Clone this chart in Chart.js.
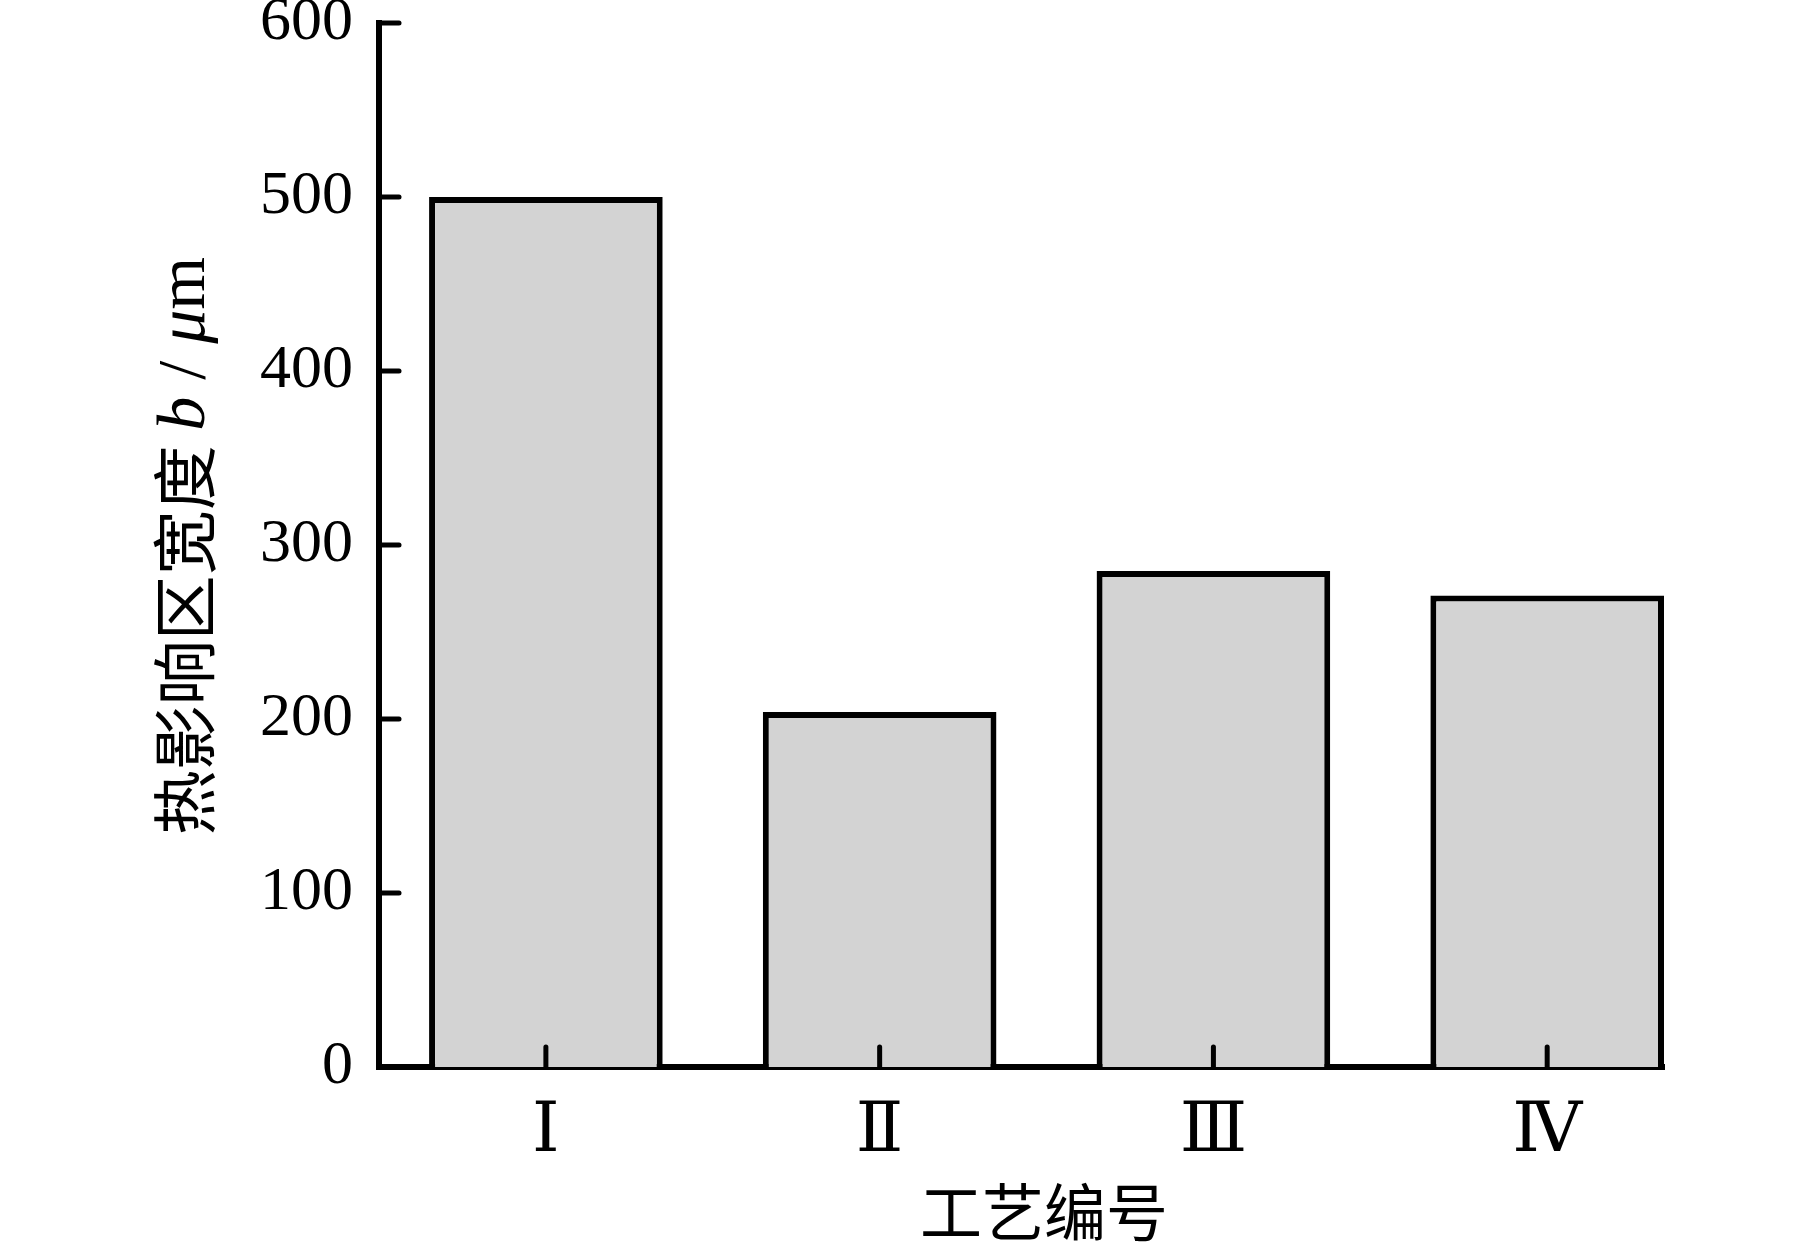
<!DOCTYPE html>
<html>
<head>
<meta charset="utf-8">
<script src="https://cdn.jsdelivr.net/npm/chart.js@4.4.0/dist/chart.umd.min.js"></script>
<style>
  html, body { margin: 0; padding: 0; background: #fff; }
  #wrap { width: 1819px; height: 1245px; }
</style>
</head>
<body>
<div id="wrap"><canvas id="myChart"></canvas></div>
<script>
// data
const categories = ["Ⅰ", "Ⅱ", "Ⅲ", "Ⅳ"];
const widths = [500, 204, 285, 271];
const yTicks = [0, 100, 200, 300, 400, 500, 600];

const xTitle = "工艺编号";
// y title pieces: [text, kind]
const yTitle = [["热影响区宽度 ", "cjk"], ["b", "it"], [" / ", "rm"], ["μ", "it"], ["m", "rm"]];

const serif = '"Liberation Serif", "DejaVu Serif", serif';
const cjk = '"Noto Sans CJK SC", sans-serif';

const fontFor = (kind) => {
  if (kind === "cjk") return `65px ${cjk}`;
  if (kind === "it") return `italic 68px ${serif}`;
  return `68px ${serif}`;
};

// inward tick marks + axis titles
const extras = {
  id: "extras",
  afterDatasetsDraw(chart) {
    const { ctx, chartArea, scales } = chart;
    ctx.save();
    ctx.strokeStyle = "#000";
    ctx.lineWidth = 5;
    ctx.lineCap = "round";
    yTicks.forEach((v) => {
      if (v === 0) return;
      const y = scales.y.getPixelForValue(v);
      ctx.beginPath();
      ctx.moveTo(chartArea.left, y);
      ctx.lineTo(chartArea.left + 20, y);
      ctx.stroke();
    });
    categories.forEach((c, i) => {
      const x = scales.x.getPixelForValue(i + 1);
      ctx.beginPath();
      ctx.moveTo(x, chartArea.bottom);
      ctx.lineTo(x, chartArea.bottom - 20);
      ctx.stroke();
    });

    ctx.fillStyle = "#000";
    // x title
    ctx.font = `62px ${cjk}`;
    ctx.textAlign = "center";
    ctx.textBaseline = "middle";
    ctx.fillText(xTitle, 1044, 1212);

    // rotated y title with mixed fonts
    ctx.translate(184, 546);
    ctx.rotate(-Math.PI / 2);
    ctx.textAlign = "left";
    let total = 0;
    yTitle.forEach(([t, k]) => {
      ctx.font = fontFor(k);
      total += ctx.measureText(t).width;
    });
    let x = -total / 2;
    yTitle.forEach(([t, k]) => {
      ctx.font = fontFor(k);
      ctx.fillText(t, x, k === "cjk" ? 0 : 2);
      x += ctx.measureText(t).width;
    });
    ctx.restore();
  },
};

const ctx = document.getElementById("myChart");

const myChart = new Chart(ctx, {
  type: "bar",
  data: {
    labels: categories,
    datasets: [
      {
        data: widths.map((v, i) => ({ x: i + 1, y: v })),
        backgroundColor: "#d3d3d3",
        borderColor: "#000",
        borderWidth: 6,
        barPercentage: 0.7,
        categoryPercentage: 1,
      },
    ],
  },
  options: {
    responsive: true,
    maintainAspectRatio: false,
    animation: false,
    layout: { padding: { top: 23, right: 155, left: 0, bottom: 0 } },
    plugins: { legend: { display: false }, tooltip: { enabled: false } },
    scales: {
      x: {
        type: "linear",
        offset: false,
        min: 0.5,
        max: 4.35,
        grid: { display: false },
        border: { display: true, color: "#000", width: 6 },
        afterBuildTicks: (s) => {
          s.ticks = categories.map((c, i) => ({ value: i + 1 }));
        },
        afterFit: (s) => {
          s.height = 178;
          s.paddingLeft = 0;
          s.paddingRight = 0;
        },
        ticks: {
          padding: 16,
          color: "#000",
          font: { family: '"DejaVu Serif", serif', size: 70 },
          callback: (v) => categories[v - 1],
          maxRotation: 0,
        },
      },
      y: {
        min: 0,
        max: 600,
        grid: { display: false },
        border: { display: true, color: "#000", width: 6 },
        afterBuildTicks: (s) => {
          s.ticks = yTicks.map((v) => ({ value: v }));
        },
        afterFit: (s) => {
          s.width = 379;
          s.paddingTop = 0;
          s.paddingBottom = 0;
        },
        ticks: {
          padding: 18,
          color: "#000",
          font: { family: serif, size: 62 },
        },
      },
    },
  },
  plugins: [extras],
});
</script>
</body>
</html>
